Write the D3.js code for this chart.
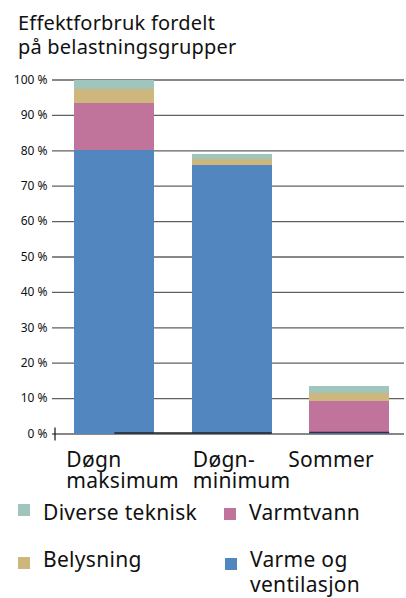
<!DOCTYPE html>
<html><head><meta charset="utf-8">
<script src="https://cdn.jsdelivr.net/npm/d3@7"></script>
<style>
html,body{margin:0;padding:0;background:#fff;}
svg text{font-family:"Noto Sans","Open Sans",sans-serif;fill:#111;}
</style></head>
<body><svg id="c" width="406" height="598"></svg>
<script>
const titleLines = ["Effektforbruk fordelt", "på belastningsgrupper"];
const categories = ["Døgn maksimum", "Døgn-minimum", "Sommer"];
const categoryLabelLines = [["Døgn", "maksimum"], ["Døgn-", "minimum"], ["Sommer"]];
const seriesNames = ["Varme og ventilasjon", "Varmtvann", "Belysning", "Diverse teknisk"];
const varmeOgVentilasjon = [80, 75.8, 0.3];
const varmtvann = [13.4, 0, 9.0];
const belysning = [3.8, 1.7, 2.1];
const diverseTeknisk = [2.8, 1.5, 2.0];
const tickValues = [0, 10, 20, 30, 40, 50, 60, 70, 80, 90, 100];
const colors = ["#5286be", "#c0739b", "#ceb77d", "#9fc5bc"];

const svg = d3.select("#c");
const y = d3.scaleLinear().domain([0, 100]).range([433.5, 79.5]);
const x = d3.scaleBand().domain(categories).range([55.5, 408]).paddingInner(0.319).paddingOuter(0.16);
const color = d3.scaleOrdinal().domain(seriesNames).range(colors);

// title
svg.append("g").selectAll("text").data(titleLines).join("text")
  .attr("x", 18).attr("y", (d, i) => 30 + i * 23.5)
  .style("font-size", "20px").style("letter-spacing", "0.2px").text(d => d);

// axis + gridlines
const axis = d3.axisLeft(y).tickValues(tickValues).tickFormat(d => d + " %")
  .tickSize(-352).tickPadding(4.5);
const ag = svg.append("g").attr("transform", "translate(52,0)").call(axis);
ag.select(".domain").remove();
ag.selectAll(".tick line").attr("stroke", "#606060").attr("stroke-width", 1.3);
ag.selectAll(".tick text").style("font-size", "12px").attr("fill", "#111")
  .style("font-family", '"Noto Sans","Open Sans",sans-serif');
// small vertical tick at zero
svg.append("line").attr("x1", 55).attr("x2", 55).attr("y1", y(0) - 6).attr("y2", y(0) + 7)
  .attr("stroke", "#111").attr("stroke-width", 1.2);

// stacked bars
const rows = categories.map((c, i) => ({
  cat: c,
  "Varme og ventilasjon": varmeOgVentilasjon[i],
  "Varmtvann": varmtvann[i],
  "Belysning": belysning[i],
  "Diverse teknisk": diverseTeknisk[i]
}));
const stacked = d3.stack().keys(seriesNames)(rows);
svg.append("g").selectAll("g").data(stacked).join("g")
  .attr("fill", d => color(d.key))
  .selectAll("rect").data(d => d).join("rect")
  .attr("x", d => x(d.data.cat)).attr("width", x.bandwidth())
  .attr("y", d => y(d[1])).attr("height", d => Math.max(0, y(d[0]) - y(d[1])))
  .attr("shape-rendering", "crispEdges");

// dark baseline segments under bars
svg.append("line").attr("x1", x(categories[0]) + x.bandwidth() / 2).attr("x2", x(categories[1]) + x.bandwidth())
  .attr("y1", y(0) - 0.5).attr("y2", y(0) - 0.5).attr("stroke", "#222").attr("stroke-width", 1.5);
svg.append("line").attr("x1", x(categories[2])).attr("x2", x(categories[2]) + x.bandwidth())
  .attr("y1", y(0) - 1).attr("y2", y(0) - 1).attr("stroke", "#3a2e38").attr("stroke-width", 1.5);

// category labels
const labelDx = [-8, 1, -21];
svg.append("g").selectAll("text").data(categoryLabelLines).join("text")
  .attr("x", (d, i) => x(categories[i]) + labelDx[i])
  .attr("y", 467)
  .style("font-size", "21px").style("letter-spacing", "0.3px")
  .each(function (lines) {
    d3.select(this).selectAll("tspan").data(lines).join("tspan")
      .attr("x", d3.select(this).attr("x")).attr("dy", (d, j) => j === 0 ? 0 : 21).text(d => d);
  });

// legend
const legendOrder = ["Diverse teknisk", "Varmtvann", "Belysning", "Varme og ventilasjon"];
const legendLines = [["Diverse teknisk"], ["Varmtvann"], ["Belysning"], ["Varme og", "ventilasjon"]];
const legendPos = [[18, 520, 504], [224, 520, 508], [18, 567, 557], [225, 567, 558]];
const lg = svg.append("g").selectAll("g").data(legendOrder).join("g");
lg.append("rect").attr("x", (d, i) => legendPos[i][0]).attr("y", (d, i) => legendPos[i][2])
  .attr("width", 12).attr("height", 12).attr("fill", d => color(d));
lg.append("text").attr("x", (d, i) => legendPos[i][0] + 25).attr("y", (d, i) => legendPos[i][1])
  .style("font-size", "21px").style("letter-spacing", "0.3px")
  .each(function (d, i) {
    const t = d3.select(this);
    t.selectAll("tspan").data(legendLines[i]).join("tspan")
      .attr("x", t.attr("x")).attr("dy", (s, j) => j === 0 ? 0 : 25).text(s => s);
  });
</script></body></html>
